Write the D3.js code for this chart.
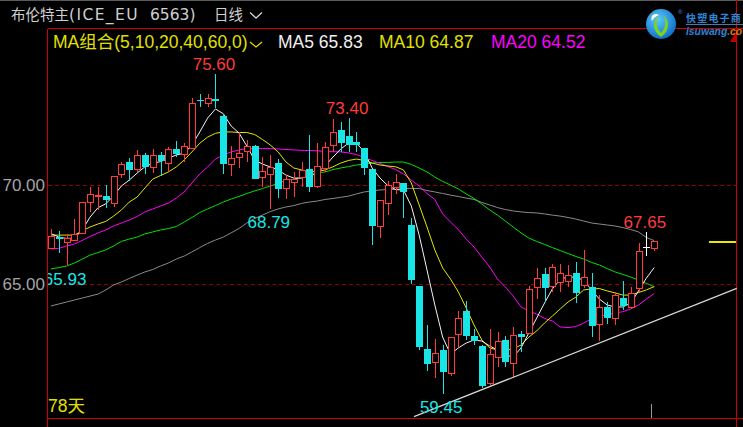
<!DOCTYPE html>
<html><head><meta charset="utf-8">
<script src="https://cdn.jsdelivr.net/npm/d3@7"></script>
<style>html,body{margin:0;padding:0;background:#000;overflow:hidden}</style>
</head><body>
<svg id="chart" width="743" height="427"></svg>
<script>
// ---------- data ----------
const opens  = [66.83,67.37,67.11,67.22,67.56,69.16,69.42,69.44,69.11,70.54,71.15,70.79,71.50,70.89,71.52,71.13,71.82,71.58,71.85,74.29,74.13,74.34,73.48,71.05,71.40,71.73,71.97,70.42,70.54,71.10,69.83,70.17,70.42,70.79,69.96,70.84,72.02,72.78,72.47,72.16,71.88,70.79,67.94,69.11,69.92,70.08,67.98,64.90,61.72,61.07,61.67,60.49,62.46,63.64,62.37,61.87,60.01,61.33,62.17,61.03,62.46,62.51,64.86,65.50,64.90,65.12,65.17,65.57,64.96,64.83,62.96,63.85,63.27,64.31,63.82,64.78,66.86,66.80];
const highs  = [67.78,67.70,67.51,68.28,69.15,69.90,69.92,70.00,70.45,71.15,71.35,71.75,71.63,71.82,71.66,71.93,72.22,72.12,74.38,74.58,74.58,75.60,73.60,71.98,72.69,72.27,72.00,71.43,71.52,71.30,70.50,70.67,71.18,72.53,72.10,72.19,73.32,73.20,73.40,72.69,71.88,70.79,69.24,70.22,70.56,70.08,68.32,64.90,62.93,62.20,61.92,62.31,63.64,64.14,62.75,61.92,62.71,62.60,62.37,62.85,62.63,64.90,65.79,65.79,66.00,66.00,65.96,66.13,66.72,65.54,64.44,64.10,64.60,65.17,64.83,67.05,67.65,67.19];
const lows   = [66.83,66.58,65.93,67.17,67.52,68.65,68.74,68.82,68.90,70.37,70.20,70.66,70.54,70.60,70.47,70.67,71.43,71.15,71.85,73.92,73.95,73.90,70.54,70.47,70.84,71.18,70.29,69.91,68.79,69.33,69.28,69.38,69.92,69.66,69.83,70.67,71.68,71.68,71.68,71.68,70.50,66.97,67.31,68.48,69.55,68.32,65.00,61.67,60.62,60.27,59.45,60.35,61.83,62.17,61.92,59.73,59.90,60.82,60.82,60.32,61.58,62.51,64.23,64.10,64.60,64.60,64.86,64.02,64.78,62.31,62.14,62.98,62.93,63.69,63.72,64.61,66.43,66.68];
const closes = [67.41,67.29,67.31,67.51,69.13,69.53,69.48,69.24,70.45,71.05,70.77,71.50,70.92,71.50,71.21,71.80,71.58,71.95,74.14,74.23,74.38,74.23,71.06,71.35,71.63,71.98,70.29,70.72,70.92,69.80,70.29,70.29,70.76,69.91,70.96,71.90,72.69,72.11,72.02,72.02,70.84,67.94,69.24,70.00,70.17,69.66,65.20,61.83,60.96,61.50,60.57,62.31,63.27,62.39,62.14,59.86,61.45,62.12,61.04,62.42,62.34,64.73,65.32,64.78,65.84,65.54,65.45,64.56,65.37,62.88,63.85,63.27,64.43,63.89,64.53,66.68,66.86,67.19];

const ma5  = [67.55,67.37,67.30,67.32,67.73,68.38,68.85,69.05,69.45,69.95,70.25,70.60,70.92,71.10,71.18,71.35,71.52,71.60,72.02,72.68,73.38,73.84,73.60,72.98,72.63,71.97,71.26,71.06,70.91,70.76,70.50,70.35,70.35,70.45,70.63,70.96,71.41,71.82,72.12,72.12,71.67,70.86,70.35,69.97,69.77,69.75,68.94,67.47,65.71,63.94,62.32,61.46,61.77,62.02,62.17,62.12,61.87,61.67,61.41,61.31,61.77,62.53,63.28,64.04,64.75,65.23,65.37,65.33,65.20,64.70,64.24,63.94,63.84,63.84,64.04,64.65,65.30,65.83];
const ma10 = [67.47,67.47,67.47,67.47,67.68,67.88,68.03,68.16,68.43,68.74,69.14,69.39,69.85,70.30,70.48,70.66,70.91,71.26,71.67,72.11,72.42,72.61,72.68,72.68,72.65,72.65,72.55,72.30,72.02,71.67,71.16,70.86,70.76,70.68,70.68,70.76,70.92,71.11,71.24,71.31,71.24,71.11,71.01,70.96,70.92,70.76,70.10,68.99,67.88,66.72,65.81,65.25,64.60,63.79,62.93,62.17,61.77,61.67,61.67,61.72,61.92,62.32,62.63,63.03,63.38,63.74,64.09,64.34,64.70,64.75,64.77,64.65,64.55,64.44,64.44,64.57,64.70,64.87];
const ma20 = [66.77,66.80,66.92,67.02,67.20,67.40,67.58,67.73,67.93,68.08,68.23,68.41,68.64,68.79,68.94,69.09,69.34,69.65,70.10,70.56,70.91,71.31,71.52,71.67,71.77,71.84,71.84,71.84,71.84,71.82,71.79,71.77,71.75,71.74,71.73,71.69,71.68,71.67,71.62,71.54,71.39,71.24,71.09,70.93,70.78,70.56,70.25,69.95,69.57,69.27,68.54,68.13,67.75,67.27,66.87,66.36,65.86,65.25,64.85,64.39,63.84,63.64,63.48,63.26,63.13,62.83,62.80,62.85,63.03,63.23,63.38,63.43,63.54,63.60,63.74,63.94,64.24,64.52];
const ma40 = [65.76,65.83,65.91,66.06,66.26,66.46,66.59,66.72,66.92,67.15,67.27,67.37,67.53,67.63,67.73,67.80,67.90,68.13,68.36,68.61,68.79,68.96,69.14,69.29,69.42,69.57,69.70,69.82,69.95,70.08,70.23,70.30,70.38,70.48,70.61,70.66,70.78,70.86,70.93,71.01,71.06,71.11,71.14,71.14,71.16,71.16,71.04,70.86,70.66,70.40,70.18,70.00,69.80,69.55,69.32,69.04,68.74,68.48,68.18,67.88,67.58,67.32,67.15,67.00,66.84,66.69,66.54,66.39,66.26,66.09,65.96,65.78,65.61,65.48,65.35,65.20,65.03,64.86];
const ma60 = [63.89,63.99,64.09,64.19,64.29,64.39,64.49,64.70,64.95,65.10,65.28,65.45,65.61,65.73,65.91,66.06,66.26,66.41,66.62,66.84,67.05,67.22,67.37,67.58,67.80,68.08,68.31,68.48,68.66,68.79,68.89,68.96,69.07,69.14,69.19,69.27,69.32,69.38,69.44,69.55,69.65,69.70,69.75,69.77,69.78,69.82,69.83,69.82,69.72,69.65,69.57,69.49,69.42,69.34,69.27,69.12,68.99,68.86,68.76,68.69,68.64,68.61,68.59,68.54,68.48,68.43,68.36,68.28,68.18,68.08,68.03,67.98,67.93,67.85,67.75,67.63,67.35,67.19];

const yTicks = [65, 70];
const highMarks = [21, 38, 76];   // candles whose highs are labelled
const lowMarks  = [2, 28, 50];    // candles whose lows are labelled
const trendPoints = [{i: 46.34, v: 58.30}, {i: 87.53, v: 64.78}];
const titleParts = [
  {t: "布伦特主", x: 11, fs: 14.5, ls: 0},
  {t: "(ICE_EU", x: 69, fs: 15.5, ls: 1.4},
  {t: "6563)", x: 150, fs: 15.5, ls: 0},
  {t: "日线", x: 214, fs: 14.5, ls: 0}
];
const maLegend = [
  {t: "MA组合(5,10,20,40,60,0)", x: 53, c: "#e0e000"},
  {t: "MA5 65.83", x: 278, c: "#f0f0f0"},
  {t: "MA10 64.87", x: 379, c: "#e0e000"},
  {t: "MA20 64.52", x: 491, c: "#ff00ff"}
];
const dayCount = "78天";

// ---------- styles ----------
const RED = "#ff3b3b", CYAN = "#18e6e6", BORDER = "#cc0000";
const maStyles = [
  {d: ma60, c: "#8a8a8a"},
  {d: ma40, c: "#00e000"},
  {d: ma20, c: "#ff00ff"},
  {d: ma10, c: "#e6e600"},
  {d: ma5,  c: "#f4f4f4"}
];
const FONT = "'Liberation Sans', Arial, 'Noto Sans CJK SC', sans-serif";

const svg = d3.select("#chart");
const W = 743, H = 427;
const plot = {l: 48, r: 737, t: 29, b: 418};

const n = closes.length;
const x = d3.scaleBand().domain(d3.range(n)).range([47, 47 + n * 7.835]).padding(0);
const cx = i => x(i) + x.bandwidth() / 2;
const xLin = d3.scaleLinear().domain([0, n - 1]).range([cx(0), cx(n - 1)]);
const y = d3.scaleLinear().domain([65, 70]).range([284, 185]);

svg.append("rect").attr("width", W).attr("height", H).attr("fill", "#000");

const defs = svg.append("defs");
defs.append("clipPath").attr("id", "plotclip").append("rect")
  .attr("x", plot.l).attr("y", plot.t).attr("width", plot.r - plot.l).attr("height", plot.b - plot.t);
const grad = defs.append("radialGradient").attr("id", "logoG").attr("cx", "40%").attr("cy", "35%").attr("r", "70%");
grad.append("stop").attr("offset", "0%").attr("stop-color", "#5cc8ff");
grad.append("stop").attr("offset", "100%").attr("stop-color", "#0a6cc4");

// top gray line
svg.append("line").attr("x1", 0).attr("x2", W).attr("y1", 0.5).attr("y2", 0.5).attr("stroke", "#5a5a5a");

// title
const title = svg.append("g").attr("font-family", "'DejaVu Sans', 'Noto Sans CJK SC', sans-serif").attr("fill", "#cfcfcf");
title.selectAll("text").data(titleParts).join("text")
  .attr("x", d => d.x).attr("y", 20).attr("font-size", d => d.fs).attr("letter-spacing", d => d.ls).text(d => d.t);
svg.append("path").attr("d", "M250,12.5 L256,18 L262,12.5").attr("fill", "none").attr("stroke", "#cfcfcf").attr("stroke-width", 1.3);

// frame
const frame = svg.append("g").attr("stroke", BORDER).attr("stroke-width", 1.3).attr("shape-rendering", "crispEdges");
frame.append("line").attr("x1", plot.l).attr("x2", W).attr("y1", 28.5).attr("y2", 28.5);
frame.append("line").attr("x1", 47.5).attr("x2", 47.5).attr("y1", 28.5).attr("y2", H);
frame.append("line").attr("x1", plot.l).attr("x2", W).attr("y1", 418.5).attr("y2", 418.5);
frame.append("line").attr("x1", 736.5).attr("x2", 736.5).attr("y1", 0).attr("y2", H);

// MA legend
const leg = svg.append("g").attr("font-family", FONT).attr("font-size", 17.5);
leg.selectAll("text").data(maLegend).join("text").attr("x", d => d.x).attr("y", 48).attr("fill", d => d.c).text(d => d.t);
svg.append("path").attr("d", "M250,42 L256,47 L262,42").attr("fill", "none").attr("stroke", "#e0e000").attr("stroke-width", 1.3);

// y axis labels + dashed grid
svg.append("g").selectAll("line").data(yTicks).join("line")
  .attr("x1", plot.l).attr("x2", plot.r).attr("y1", d => Math.round(y(d)) + 0.5).attr("y2", d => Math.round(y(d)) + 0.5)
  .attr("stroke", "#8e0000").attr("stroke-dasharray", "4,3");
svg.append("g").selectAll("text").data(yTicks).join("text")
  .attr("x", 45).attr("y", d => y(d) + 6).attr("text-anchor", "end")
  .attr("font-family", FONT).attr("font-size", 17).attr("fill", "#a4a4a4")
  .text(d => d3.format(".2f")(d));

const pg = svg.append("g").attr("clip-path", "url(#plotclip)");

// MA lines
const line = d3.line().x((d, i) => xLin(i)).y(d => y(d));
pg.append("g").selectAll("path").data(maStyles).join("path")
  .attr("d", d => line(d.d)).attr("fill", "none").attr("stroke", d => d.c).attr("stroke-width", 1);

// candles
const cg = pg.append("g").attr("shape-rendering", "crispEdges");
d3.range(n).forEach(i => {
  const o = opens[i], c = closes[i], h = highs[i], l = lows[i];
  const px = Math.round(cx(i));
  const col = c > o ? RED : (c < o ? CYAN : "#ffffff");
  const yTop = Math.round(y(Math.max(o, c))), yBot = Math.round(y(Math.min(o, c)));
  if (c > o) {
    cg.append("line").attr("x1", px + 0.5).attr("x2", px + 0.5).attr("y1", y(h)).attr("y2", yTop).attr("stroke", col);
    cg.append("line").attr("x1", px + 0.5).attr("x2", px + 0.5).attr("y1", yBot).attr("y2", y(l)).attr("stroke", col);
    cg.append("rect").attr("x", px - 3 + 0.5).attr("y", yTop + 0.5).attr("width", 6).attr("height", Math.max(yBot - yTop, 1))
      .attr("fill", "#000").attr("stroke", col);
  } else if (c < o) {
    cg.append("line").attr("x1", px + 0.5).attr("x2", px + 0.5).attr("y1", y(h)).attr("y2", y(l)).attr("stroke", col);
    cg.append("rect").attr("x", px - 3).attr("y", yTop).attr("width", 7).attr("height", Math.max(yBot - yTop, 1)).attr("fill", col);
  } else {
    cg.append("line").attr("x1", px + 0.5).attr("x2", px + 0.5).attr("y1", y(h)).attr("y2", y(l)).attr("stroke", col);
    cg.append("line").attr("x1", px - 3).attr("x2", px + 4).attr("y1", yTop + 0.5).attr("y2", yTop + 0.5).attr("stroke", col);
  }
});

// trend line
pg.append("line")
  .attr("x1", xLin(trendPoints[0].i)).attr("y1", y(trendPoints[0].v))
  .attr("x2", xLin(trendPoints[1].i)).attr("y2", y(trendPoints[1].v))
  .attr("stroke", "#d8d8d8").attr("stroke-width", 1.2);

// extreme labels
const lg = pg.append("g").attr("font-family", FONT).attr("font-size", 17).attr("text-anchor", "middle");
lg.selectAll("text.h").data(highMarks).join("text").attr("class", "h")
  .attr("x", i => cx(i) - 1.5).attr("y", i => y(highs[i]) - 4).attr("fill", RED)
  .text(i => d3.format(".2f")(highs[i]));
lg.selectAll("text.l").data(lowMarks).join("text").attr("class", "l")
  .attr("x", i => cx(i) - 1.5).attr("y", i => y(lows[i]) + 19).attr("fill", CYAN)
  .text(i => d3.format(".2f")(lows[i]));

// latest price marker on the right
svg.append("rect").attr("x", 709).attr("width", plot.r - 1 - 709).attr("y", Math.round(y(closes[n - 1]))).attr("height", 2)
  .attr("fill", "#e8e800").attr("shape-rendering", "crispEdges");

// day count
svg.append("text").attr("x", 48).attr("y", 412).attr("font-family", FONT).attr("font-size", 17.5).attr("fill", "#e0e000").text(dayCount);

// cursor tick at bottom
svg.append("line").attr("x1", 651.5).attr("x2", 651.5).attr("y1", 404).attr("y2", 418).attr("stroke", "#9a9a9a").attr("shape-rendering", "crispEdges");

// red corner marker
svg.append("path").attr("d", "M736,32 L736,42 L730,42 Z").attr("fill", "#c00000");

// logo
const logo = svg.append("g");
logo.append("circle").attr("cx", 661).attr("cy", 24).attr("r", 15).attr("fill", "url(#logoG)");
logo.append("path").attr("d", "M661,37 C652,31 652,20 659,15 C655,22 657,29 661,33 C665,29 667,22 663,15 C670,20 670,31 661,37 Z").attr("fill", "#7ed321");
logo.append("path").attr("d", "M659,15 C654,12 650,16 652,21 C654,17 657,16 659,15 Z").attr("fill", "#ffffff");
logo.append("text").attr("x", 678).attr("y", 14).attr("font-size", 6).attr("fill", "#4a9ad8").attr("font-family", FONT).text("®");
logo.append("text").attr("x", 686).attr("y", 22).attr("font-size", 10).attr("font-weight", "bold").attr("letter-spacing", 1.2)
  .attr("fill", "#2a86d6").attr("font-family", "'Noto Sans CJK SC', sans-serif").text("快塑电子商");
logo.append("line").attr("x1", 686).attr("x2", W).attr("y1", 24.5).attr("y2", 24.5).attr("stroke", "#4a7aa8");
const lt = logo.append("text").attr("x", 686).attr("y", 35).attr("font-size", 10.3).attr("font-weight", "bold").attr("font-style", "italic")
  .attr("font-family", FONT);
lt.append("tspan").attr("fill", "#2a86d6").text("isuwang.");
lt.append("tspan").attr("fill", "#e07a10").text("co");
</script>
</body></html>
